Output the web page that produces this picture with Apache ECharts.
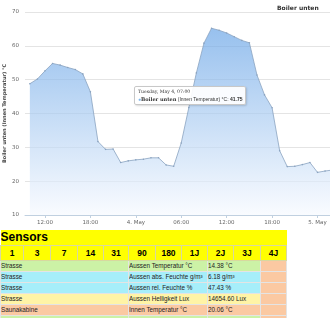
<!DOCTYPE html>
<html>
<head>
<meta charset="utf-8">
<script src="https://cdn.jsdelivr.net/npm/echarts@6/dist/echarts.min.js"></script>
<style>
  html, body { margin:0; padding:0; width:330px; height:318px; overflow:hidden; background:#fff; }
  #chart { position:absolute; left:0; top:0; width:330px; height:228px; }
  #tbl { position:absolute; left:0; top:230px; border-collapse:collapse; table-layout:fixed;
         font-family:"Liberation Sans", Arial, sans-serif; }
  #tbl td { padding:0; overflow:hidden; white-space:nowrap; }
  #tbl .title { background:#ffff00; font-weight:bold; font-size:12px; height:15px; line-height:15px; padding-left:0; }
  #tbl .num td { background:#ffff00; font-weight:bold; font-size:8.5px; text-align:center; height:14px;
                 border:1px solid #d8d8a0; }
  #tbl .row td { font-size:6.3px; height:10px; line-height:10px; border:1px solid #e4e4e4; color:#222; }
</style>
</head>
<body>
<div id="chart"></div>
<table id="tbl"></table>
<script>
// ---- data ----
const hours = [10,11,12,13,14,15,16,17,18,19,20,21,22,23,24,25,26,27,28,29,30,31,32,33,34,35,36,37,38,39,40,41,42,43,44,45,46,47,48,49,50];
const values = [48.8,50.2,52.6,54.8,54.3,53.6,53.0,51.7,46.4,31.7,29.4,29.5,25.5,26.0,26.3,26.5,26.9,26.9,24.8,24.4,31.3,41.75,52.0,60.8,65.2,64.6,63.8,62.7,61.6,60.9,51.4,45.5,41.7,29.0,24.3,24.4,24.9,25.5,22.6,23.0,23.3];
const xTickValues = [12,18,24,30,36,42,48];
const xTickLabels = ['12:00','18:00','4. May','06:00','12:00','18:00','5. May'];
const seriesName = 'Boiler unten';
const axisTitle = 'Boiler unten (Innen Temperatur) °C';
const tooltipIndex = 21;

const periodHeaders = ['1','3','7','14','31','90','180','1J','2J','3J','4J'];
const sensorLocations = ['Strasse','Strasse','Strasse','Strasse','Saunakabine',''];
const sensorNames = ['Aussen Temperatur °C','Aussen abs. Feuchte g/m³','Aussen rel. Feuchte %','Aussen Helligkeit Lux','Innen Temperatur °C',''];
const sensorValues = ['14.38 °C','6.18 g/m³','47.43 %','14654.60 Lux','20.06 °C',''];
const rowColors = ['#ccf2a6','#a6eefa','#a6eefa','#fff4a6','#fbc9a2','#ccf2a6'];
const lastColColor = '#fbc9a2';
const colWidths = [23,27,27,26,25,27,26,26,26,27,26];

// ---- table ----
(function(){
  const t = document.getElementById('tbl');
  let html = '<colgroup>' + colWidths.map(w => '<col style="width:'+w+'px">').join('') + '</colgroup>';
  html += '<tr><td class="title" colspan="11">Sensors</td></tr>';
  html += '<tr class="num">' + periodHeaders.map(h => '<td>'+h+'</td>').join('') + '</tr>';
  for (let i = 0; i < sensorLocations.length; i++) {
    const c = rowColors[i];
    html += '<tr class="row">' +
      '<td colspan="5" style="background:'+c+'">'+sensorLocations[i]+'</td>' +
      '<td colspan="3" style="background:'+c+'">'+sensorNames[i]+'</td>' +
      '<td colspan="2" style="background:'+c+'">'+sensorValues[i]+'</td>' +
      '<td style="background:'+lastColColor+'"></td></tr>';
  }
  t.innerHTML = html;
})();

// ---- chart ----
const days = ['Sunday','Monday','Tuesday','Wednesday','Thursday','Friday','Saturday'];
function fmtTime(h) {
  const base = Date.UTC(2021, 4, 3, 0, 0, 0);
  const d = new Date(base + h * 3600000);
  const hh = String(d.getUTCHours()).padStart(2,'0');
  const mm = String(d.getUTCMinutes()).padStart(2,'0');
  return days[d.getUTCDay()] + ', May ' + d.getUTCDate() + ', ' + hh + ':' + mm;
}

const chart = echarts.init(document.getElementById('chart'), null, {renderer:'canvas'});
const font = '"DejaVu Sans", Verdana, sans-serif';
chart.setOption({
  animation: false,
  textStyle: { fontFamily: font },
  title: {
    text: seriesName, left: 272, top: 0,
    textStyle: { fontSize: 6, fontWeight: 'bold', color: '#333', fontFamily: font }
  },
  grid: { left: 25, right: 0, top: 12, bottom: 13, containLabel: false, outerBoundsMode: 'none' },
  tooltip: {
    trigger: 'item',
    triggerOn: 'none',
    alwaysShowContent: true,
    transitionDuration: 0,
    position: [134, 86],
    padding: [2, 3],
    backgroundColor: 'rgba(255,255,255,0.92)',
    borderColor: '#c8c8c8',
    borderWidth: 1,
    extraCssText: 'border-radius:2px;box-shadow:1px 1px 2px rgba(0,0,0,0.15);line-height:6.5px;',
    formatter: function(p) {
      return '<div style="font-size:4.6px;color:#333;font-family:DejaVu Serif,serif">' + fmtTime(p.value[0]) + '</div>' +
        '<div style="font-size:5px;color:#333;font-family:Liberation Sans,Arial,sans-serif"><span style="color:#7cb5ec">●</span>' +
        '<b style="font-family:DejaVu Serif,serif">' + seriesName + '</b> (Innen Temperatur) °C: <b>' + p.value[1] + '</b></div>';
    }
  },
  xAxis: {
    type: 'value',
    min: 9.36, max: 49.65,
    splitLine: { show: false },
    axisLine: { show: true, lineStyle: { color: '#c0d0e0', width: 1 } },
    axisTick: { show: true, length: 3, lineStyle: { color: '#c0d0e0' }, customValues: xTickValues },
    axisLabel: {
      customValues: xTickValues,
      fontSize: 5.5, color: '#666', margin: 5,
      formatter: function(v) { const i = xTickValues.indexOf(v); return i >= 0 ? xTickLabels[i] : ''; }
    }
  },
  yAxis: {
    type: 'value',
    min: 10, max: 70, interval: 10,
    name: axisTitle,
    nameLocation: 'middle',
    nameGap: 18,
    nameMoveOverlap: false,
    nameRotate: 90,
    nameTextStyle: { fontSize: 5, fontWeight: 'bold', color: '#444' },
    axisLine: { show: false },
    axisTick: { show: false },
    axisLabel: { fontSize: 5.5, color: '#666', margin: 6 },
    splitLine: { lineStyle: { color: '#e4e4e4', width: 1 } }
  },
  series: [{
    name: seriesName,
    type: 'line',
    data: hours.map((h, i) => [h, values[i]]),
    symbol: 'circle',
    symbolSize: 1.6,
    showSymbol: true,
    itemStyle: { color: '#8aa3c0' },
    lineStyle: { color: '#8aa3c0', width: 0.8 },
    areaStyle: {
      origin: 'start',
      color: new echarts.graphic.LinearGradient(0, 0, 0, 1, [
        { offset: 0, color: '#6aa5e6' },
        { offset: 1, color: '#f6f9fe' }
      ])
    }
  }]
});
chart.dispatchAction({ type: 'showTip', seriesIndex: 0, dataIndex: tooltipIndex });
</script>
</body>
</html>
